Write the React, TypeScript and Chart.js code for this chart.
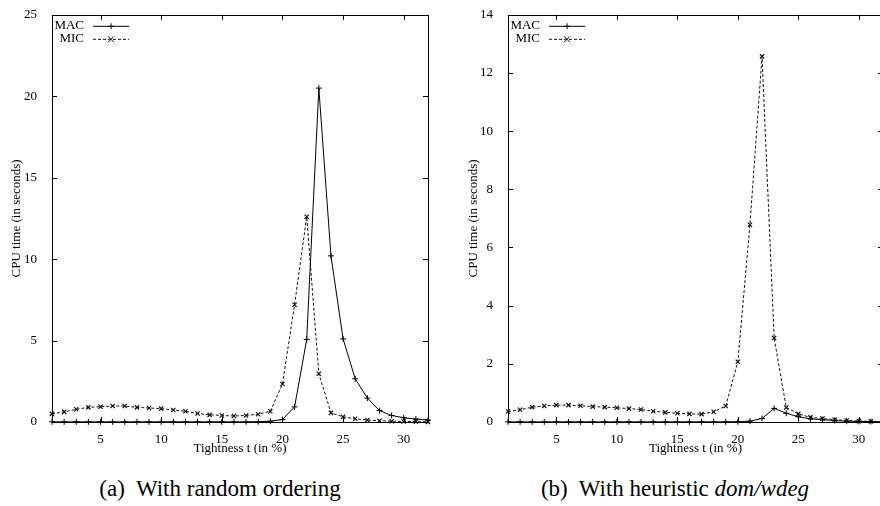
import React, { useEffect, useRef } from "react";
import { Chart, registerables } from "chart.js";

Chart.register(...registerables);

// ---- data ----
const tightness = [1, 2, 3, 4, 5, 6, 7, 8, 9, 10, 11, 12, 13, 14, 15, 16, 17, 18, 19, 20, 21, 22, 23, 24, 25, 26, 27, 28, 29, 30, 31, 32];

const macRandom = [0.01, 0.01, 0.01, 0.01, 0.01, 0.01, 0.01, 0.01, 0.01, 0.01, 0.01, 0.01, 0.01, 0.01, 0.01, 0.01, 0.01, 0.02, 0.05, 0.15, 0.93, 5.07, 20.5, 10.2, 5.1, 2.65, 1.47, 0.7, 0.4, 0.26, 0.18, 0.12];
const micRandom = [0.5, 0.62, 0.78, 0.9, 0.94, 0.98, 0.98, 0.9, 0.86, 0.82, 0.74, 0.66, 0.52, 0.44, 0.4, 0.37, 0.4, 0.48, 0.66, 2.33, 7.2, 12.6, 2.96, 0.56, 0.32, 0.2, 0.12, 0.08, 0.05, 0.03, 0.02, 0.01];

const macDomWdeg = [0.005, 0.005, 0.005, 0.005, 0.005, 0.005, 0.005, 0.005, 0.005, 0.005, 0.005, 0.005, 0.005, 0.005, 0.005, 0.005, 0.005, 0.005, 0.005, 0.01, 0.03, 0.12, 0.47, 0.3, 0.18, 0.11, 0.08, 0.05, 0.03, 0.02, 0.015, 0.01];
const micDomWdeg = [0.36, 0.42, 0.51, 0.55, 0.58, 0.58, 0.56, 0.53, 0.51, 0.49, 0.46, 0.43, 0.37, 0.33, 0.3, 0.28, 0.27, 0.35, 0.55, 2.07, 6.78, 12.57, 2.89, 0.5, 0.28, 0.16, 0.12, 0.08, 0.05, 0.03, 0.02, 0.01];

const xTicks = [5, 10, 15, 20, 25, 30];
const yTicksRandom = [0, 5, 10, 15, 20, 25];
const yTicksDomWdeg = [0, 2, 4, 6, 8, 10, 12, 14];

const seriesLabels = ["MAC", "MIC"];
const xTitle = "Tightness t (in %)";
const yTitle = "CPU time (in seconds)";

// ---- styling ----
const FONT_FAMILY = "'Liberation Serif', 'Times New Roman', serif";
const FONT_SIZE = 13;

function drawMarker(ctx: CanvasRenderingContext2D, style: string, x: number, y: number, r: number) {
  ctx.beginPath();
  if (style === "cross") {
    ctx.moveTo(x - r, y);
    ctx.lineTo(x + r, y);
    ctx.moveTo(x, y - r);
    ctx.lineTo(x, y + r);
  } else {
    ctx.moveTo(x - r, y - r);
    ctx.lineTo(x + r, y + r);
    ctx.moveTo(x - r, y + r);
    ctx.lineTo(x + r, y - r);
  }
  ctx.stroke();
}

const gnuFrame = {
  id: "gnuFrame",
  afterDraw(chart: any) {
    const { ctx, chartArea: a, scales } = chart;
    ctx.save();
    ctx.strokeStyle = "#000";
    ctx.lineWidth = 1;
    ctx.setLineDash([]);
    const L = 5;
    const line = (x1: number, y1: number, x2: number, y2: number) => {
      ctx.beginPath();
      ctx.moveTo(x1, y1);
      ctx.lineTo(x2, y2);
      ctx.stroke();
    };
    ctx.strokeRect(Math.round(a.left) + 0.5, Math.round(a.top) + 0.5, Math.round(a.right - a.left), Math.round(a.bottom - a.top));
    scales.x.ticks.forEach((t: any) => {
      const px = Math.round(scales.x.getPixelForValue(t.value)) + 0.5;
      line(px, a.bottom, px, a.bottom - L);
      line(px, a.top, px, a.top + L);
    });
    scales.y.ticks.forEach((t: any) => {
      const py = Math.round(scales.y.getPixelForValue(t.value)) + 0.5;
      line(a.left, py, a.left + L, py);
      line(a.right, py, a.right - L, py);
    });
    // gnuplot-style legend: label, then line sample with marker
    ctx.font = `${FONT_SIZE}px ${FONT_FAMILY}`;
    ctx.fillStyle = "#000";
    ctx.textAlign = "right";
    ctx.textBaseline = "middle";
    chart.data.datasets.forEach((ds: any, i: number) => {
      const y = a.top + 11 + i * 13;
      ctx.setLineDash([]);
      ctx.fillText(ds.label, a.left + 32, y);
      ctx.strokeStyle = ds.borderColor;
      ctx.lineWidth = ds.borderWidth;
      ctx.setLineDash(ds.borderDash || []);
      line(a.left + 41, y + 0.5, a.left + 77, y + 0.5);
      ctx.setLineDash([]);
      drawMarker(ctx, ds.pointStyle, a.left + 59, y + 0.5, 3);
    });
    ctx.restore();
  },
};

type PanelProps = {
  mac: number[];
  mic: number[];
  yMax: number;
  yTicks: number[];
  padLeft: number;
  yWidth: number;
  padRight: number;
  padTop: number;
  canvasWidth: number;
};

const CANVAS_H = 470;
const X_AXIS_H = 35;
const PLOT_BOTTOM = 422;

function Panel(p: PanelProps) {
  const ref = useRef<HTMLCanvasElement | null>(null);
  useEffect(() => {
    if (!ref.current) return;
    const font = { family: FONT_FAMILY, size: FONT_SIZE };
    const chart = new Chart(ref.current, {
      type: "line",
      data: {
        datasets: [
          {
            label: seriesLabels[0],
            data: tightness.map((x, i) => ({ x, y: p.mac[i] })),
            borderColor: "#000",
            borderWidth: 1,
            pointStyle: "cross",
            pointRadius: 3,
            pointBorderColor: "#000",
            pointBorderWidth: 1,
            tension: 0,
            fill: false,
            clip: false,
          } as any,
          {
            label: seriesLabels[1],
            data: tightness.map((x, i) => ({ x, y: p.mic[i] })),
            borderColor: "#111",
            borderWidth: 1,
            borderDash: [3, 2],
            pointStyle: "crossRot",
            pointRadius: 3,
            pointBorderColor: "#111",
            pointBorderWidth: 1.2,
            tension: 0,
            fill: false,
            clip: false,
          } as any,
        ],
      },
      options: {
        responsive: false,
        animation: false,
        events: [],
        layout: {
          padding: { left: p.padLeft, right: p.padRight, top: p.padTop, bottom: CANVAS_H - PLOT_BOTTOM - X_AXIS_H },
        },
        plugins: { legend: { display: false }, tooltip: { enabled: false } },
        scales: {
          x: {
            type: "linear",
            min: 1,
            max: 32,
            afterBuildTicks: (s: any) => {
              s.ticks = xTicks.map((v) => ({ value: v }));
            },
            afterFit: (s: any) => {
              s.height = X_AXIS_H;
            },
            grid: { display: false },
            border: { display: false },
            ticks: { font, color: "#000", padding: 2, maxRotation: 0, autoSkip: false },
            title: { display: true, text: xTitle, font, color: "#000", padding: { top: 0, bottom: 1 } },
          },
          y: {
            type: "linear",
            min: 0,
            max: p.yMax,
            afterBuildTicks: (s: any) => {
              s.ticks = p.yTicks.map((v) => ({ value: v }));
            },
            afterFit: (s: any) => {
              s.width = p.yWidth;
            },
            grid: { display: false },
            border: { display: false },
            ticks: { font, color: "#000", padding: 7 },
            title: { display: true, text: yTitle, font, color: "#000", padding: { top: 0, bottom: 0 } },
          },
        },
      } as any,
      plugins: [gnuFrame],
    });
    return () => chart.destroy();
  }, []);
  return <canvas ref={ref} width={p.canvasWidth} height={CANVAS_H} style={{ display: "block" }} />;
}

const captionStyle: React.CSSProperties = {
  position: "absolute",
  top: 476,
  fontFamily: FONT_FAMILY,
  fontSize: 23,
  lineHeight: "26px",
  whiteSpace: "nowrap",
  transform: "translateX(-50%)",
  color: "#000",
};

export default function App() {
  return (
    <div style={{ position: "fixed", left: 0, top: 0, width: 880, height: 506, overflow: "hidden", background: "#fff" }}>
      <div style={{ position: "absolute", left: 0, top: 0 }}>
        <Panel mac={macRandom} mic={micRandom} yMax={25} yTicks={yTicksRandom} padLeft={9} yWidth={43} padRight={12} padTop={12} canvasWidth={440} />
      </div>
      <div style={{ position: "absolute", left: 440, top: 0 }}>
        <Panel mac={macDomWdeg} mic={micDomWdeg} yMax={14} yTicks={yTicksDomWdeg} padLeft={26} yWidth={42} padRight={7} padTop={13} canvasWidth={450} />
      </div>
      <div style={{ ...captionStyle, left: 220 }}>(a)&nbsp; With random ordering</div>
      <div style={{ ...captionStyle, left: 675 }}>
        (b)&nbsp; With heuristic <i>dom/wdeg</i>
      </div>
    </div>
  );
}
